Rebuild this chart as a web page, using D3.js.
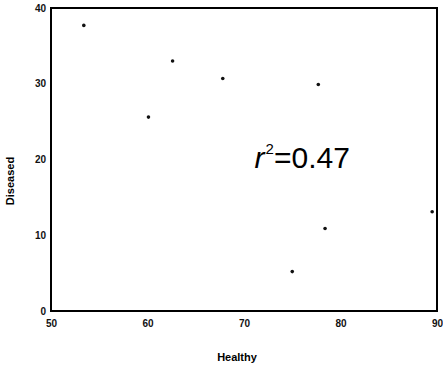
<!DOCTYPE html>
<html>
<head>
<meta charset="utf-8">
<script src="https://cdn.jsdelivr.net/npm/d3@7"></script>
<style>
  body { margin: 0; background: #fff; }
  svg { display: block; font-family: "Liberation Sans", Arial, sans-serif; }
</style>
</head>
<body>
<div id="chart"></div>
<script>
// healthy vs diseased values
const healthy  = [53.4, 62.6, 67.8, 60.1, 77.7, 89.5, 75.0, 78.4];
const diseased = [37.7, 33.0, 30.7, 25.6, 29.9, 13.1, 5.2, 10.9];
const xTicks = [50, 60, 70, 80, 90];
const yTicks = [0, 10, 20, 30, 40];
const r2 = 0.47;

const width = 443, height = 370;
const margin = { top: 8, right: 6, bottom: 59, left: 51 };
const w = width - margin.left - margin.right;
const h = height - margin.top - margin.bottom;

const svg = d3.select('#chart')
  .append('svg')
  .attr('width', width)
  .attr('height', height);

const g = svg.append('g')
  .attr('transform', `translate(${margin.left},${margin.top})`);

const x = d3.scaleLinear().domain([50, 90]).range([0, w]);
const y = d3.scaleLinear().domain([0, 40]).range([h, 0]);

// axes: only left and bottom get labels, box drawn around
const xAxis = g.append('g')
  .attr('transform', `translate(0,${h})`)
  .call(d3.axisBottom(x).tickValues(xTicks).tickSize(0).tickPadding(9));
const yAxis = g.append('g')
  .call(d3.axisLeft(y).tickValues(yTicks).tickSize(0).tickPadding(5));

[xAxis, yAxis].forEach(a => {
  a.select('.domain').remove();
  a.selectAll('text')
    .style('font-size', '10px')
    .style('font-weight', 'bold')
    .attr('fill', '#111');
});

g.append('rect')
  .attr('x', 0)
  .attr('y', 0)
  .attr('width', w)
  .attr('height', h)
  .attr('fill', 'none')
  .attr('stroke', '#000')
  .attr('stroke-width', 2);

// points
g.selectAll('.pt')
  .data(healthy.map((d, i) => ({ x: d, y: diseased[i] })))
  .enter().append('circle')
  .attr('class', 'pt')
  .attr('cx', d => x(d.x))
  .attr('cy', d => y(d.y))
  .attr('r', 1.8)
  .attr('fill', '#111');

// r squared
const lbl = g.append('text')
  .attr('x', x(71.1))
  .attr('y', y(18.9))
  .style('font-size', '30px')
  .attr('fill', '#000');
lbl.append('tspan').text('r').style('font-style', 'italic');
lbl.append('tspan').text('2').attr('dy', -14).attr('dx', 1).style('font-size', '15px');
lbl.append('tspan').text('=' + r2.toFixed(2)).attr('dy', 14);

// axis titles
svg.append('text')
  .attr('x', margin.left + w / 2 - 7)
  .attr('y', 361)
  .attr('text-anchor', 'middle')
  .style('font-size', '11px')
  .style('font-weight', 'bold')
  .text('Healthy');

svg.append('text')
  .attr('transform', `translate(14,${181}) rotate(-90)`)
  .attr('text-anchor', 'middle')
  .style('font-size', '11px')
  .style('font-weight', 'bold')
  .text('Diseased');
</script>
</body>
</html>
